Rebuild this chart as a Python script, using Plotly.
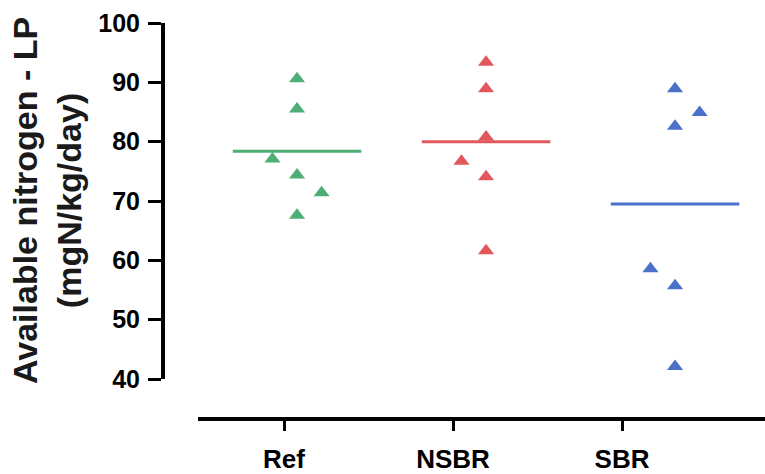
import plotly.graph_objects as go

categories = ["Ref", "NSBR", "SBR"]
colors = ["#4dae76", "#e1575c", "#4a70c9"]

# values per group and horizontal jitter (category units)
ref_vals = [90.6, 85.5, 77.1, 74.4, 71.4, 67.6]
ref_jit = [0, 0, -0.13, 0, 0.13, 0]
nsbr_vals = [93.4, 88.9, 80.8, 76.7, 74.1, 61.6]
nsbr_jit = [0, 0, 0, -0.13, 0, 0]
sbr_vals = [88.9, 84.9, 82.6, 58.6, 55.7, 42.1]
sbr_jit = [0, 0.13, 0, -0.13, 0, 0]
means = [78.4, 80.0, 69.5]

y_ticks = [40, 50, 60, 70, 80, 90, 100]

groups = [(ref_vals, ref_jit), (nsbr_vals, nsbr_jit), (sbr_vals, sbr_jit)]

fig = go.Figure()
# invisible trace so that the category axis (x) gets drawn
fig.add_trace(go.Scatter(x=[0, 1, 2], y=[None, None, None], mode="markers",
                         xaxis="x", yaxis="y", showlegend=False, hoverinfo="skip"))
for i, (vals, jit) in enumerate(groups):
    fig.add_trace(go.Scatter(
        x=[i + j for j in jit], y=vals, mode="markers",
        marker=dict(symbol="triangle-up", size=14, color=colors[i], line=dict(width=0)),
        xaxis="x2", yaxis="y", showlegend=False))
    fig.add_trace(go.Scatter(
        x=[i - 0.34, i + 0.34], y=[means[i], means[i]], mode="lines",
        line=dict(color=colors[i], width=3),
        xaxis="x2", yaxis="y", showlegend=False))

W, H = 765, 474
L, R, T, B = 163, 0, 23, 45
pw = W - L - R
ph = H - T - B

fig.update_layout(
    width=W, height=H,
    margin=dict(l=L, r=R, t=T, b=B),
    paper_bgcolor="white", plot_bgcolor="white",
    font=dict(family="Liberation Sans, Arial, sans-serif", color="black"),
    xaxis=dict(
        domain=[(198 - L) / pw, 1], anchor="free", position=0,
        range=[-0.509, 2.846], tickmode="array", tickvals=[0, 1, 2],
        ticktext=[f"<b>{c}</b>" for c in categories],
        showline=True, linecolor="black", linewidth=4,
        ticks="outside", ticklen=10, tickwidth=3, tickcolor="black",
        ticklabelstandoff=6,
        tickfont=dict(size=26), showgrid=False, zeroline=False,
    ),
    xaxis2=dict(
        overlaying="x", anchor="y", range=[-0.524, 2.476], visible=False,
    ),
    yaxis=dict(
        domain=[(429 - 388) / ph, 1], anchor="free", position=0,
        range=[40, 100], tickmode="array", tickvals=y_ticks,
        ticktext=[f"<b>{v}</b>" for v in y_ticks],
        showline=True, linecolor="black", linewidth=4,
        ticks="outside", ticklen=13, tickwidth=3, tickcolor="black",
        ticklabelstandoff=3,
        tickfont=dict(size=25), showgrid=False, zeroline=False,
    ),
)

fig.add_annotation(
    text="<b>Available nitrogen - LP<br>(mgN/kg/day)</b>",
    textangle=-90, xref="paper", yref="paper",
    x=(46.5 - L) / pw, y=((429 - 205) / ph),
    xanchor="center", yanchor="middle", showarrow=False,
    font=dict(size=34, color="#1a1a1a"),
)

fig.write_html("out.html", config={"displayModeBar": False},
               post_script="document.body.style.margin='0';")
